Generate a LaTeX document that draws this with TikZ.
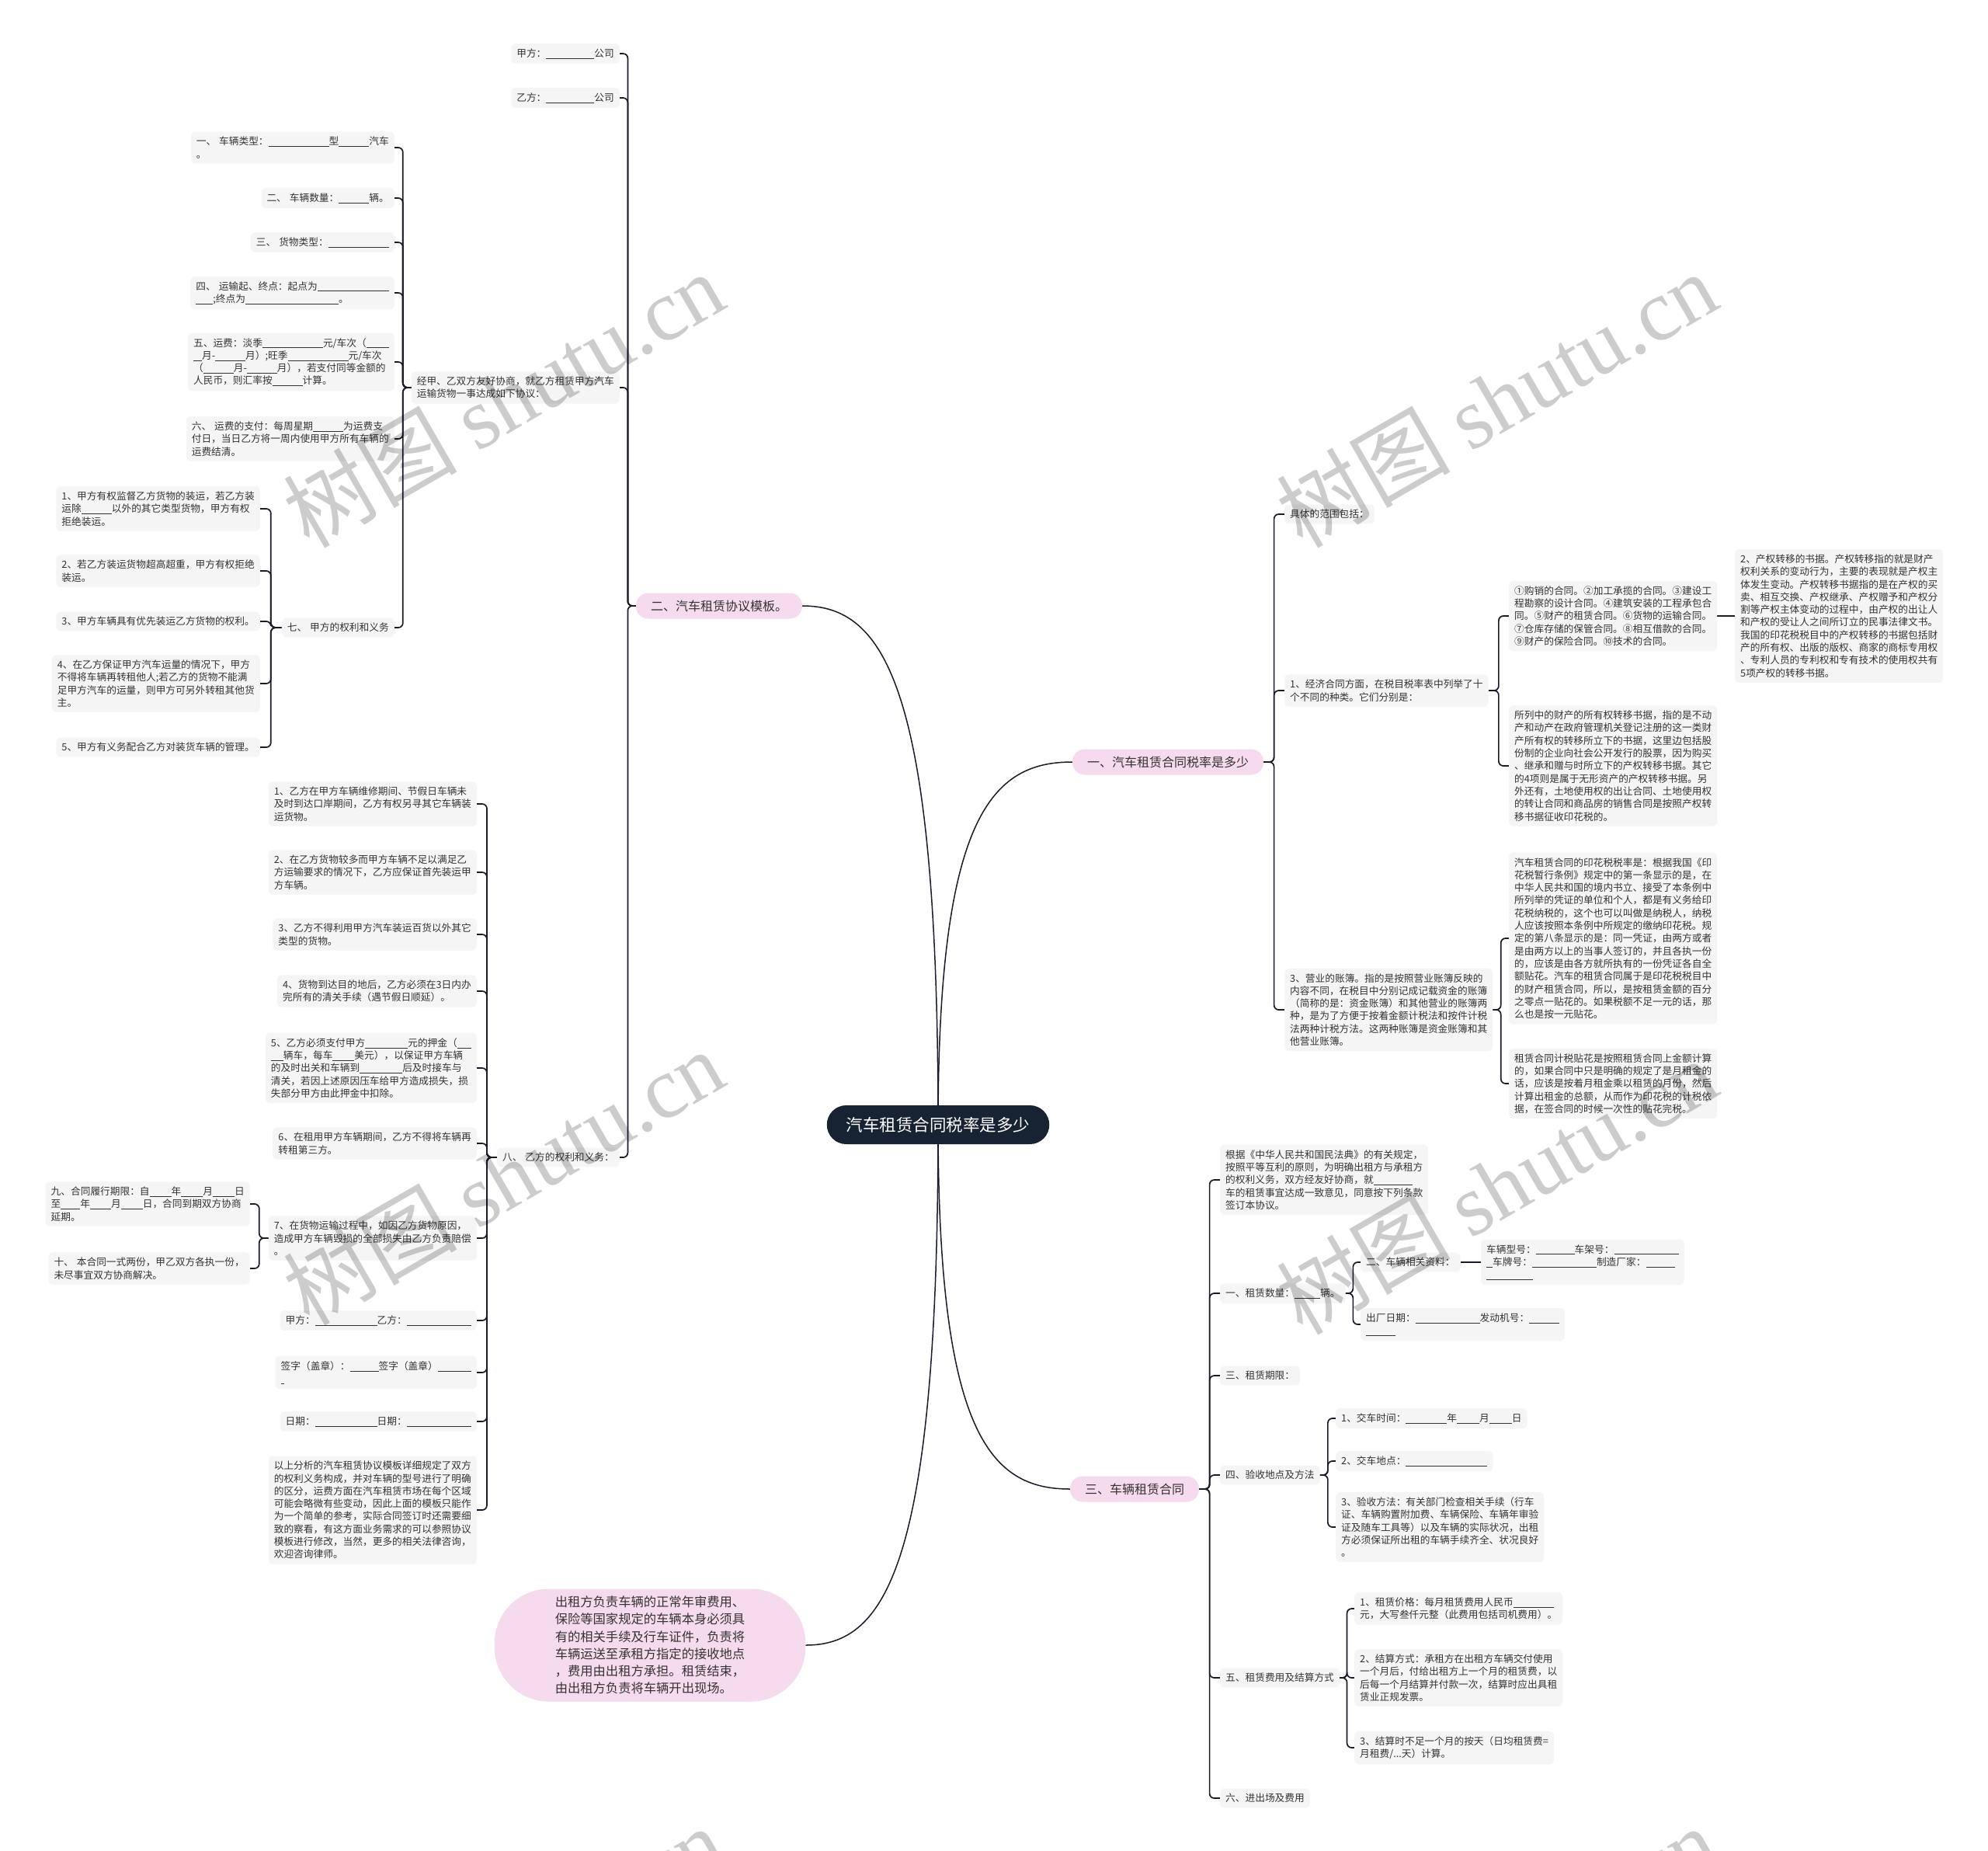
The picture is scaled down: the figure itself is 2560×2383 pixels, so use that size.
\documentclass[tikz,border=0pt]{standalone}
\usepackage{fontspec}
\setmainfont{Noto Sans CJK SC}
\newfontfamily\wmlatin{Liberation Serif}
\usetikzlibrary{calc}
\pgfdeclarelayer{background}
\pgfsetlayers{background,main}
\definecolor{rootbg}{RGB}{23,34,50}
\definecolor{pinkbg}{RGB}{246,218,238}
\definecolor{leafbg}{RGB}{245,245,245}
\definecolor{linkcol}{RGB}{24,28,40}
\definecolor{inkcol}{RGB}{51,51,51}
\newcommand{\fillbar}[1]{\rule[-1.8pt]{#1pt}{0.6pt}}
\tikzstyle{topic}=[fill=rootbg,text=white,rounded corners=25pt,minimum height=50pt,inner xsep=25pt,font=\fontsize{21.5}{26}\selectfont]
\tikzstyle{branch}=[fill=pinkbg,text=inkcol,rounded corners=16pt,minimum height=33pt,inner xsep=19pt,font=\fontsize{16}{20}\selectfont]
\tikzstyle{bubble}=[fill=pinkbg,text=inkcol,rounded corners=70pt,minimum height=145pt,inner xsep=78pt,align=left,font=\fontsize{16.3}{22.2}\selectfont]
\tikzstyle{leaf}=[fill=leafbg,text=inkcol,rounded corners=5pt,inner xsep=7pt,inner ysep=6.5pt,align=left,font=\fontsize{12.7}{16.3}\selectfont]
\tikzstyle{link}=[draw=linkcol,line width=1.7pt,rounded corners=6pt]
\tikzstyle{stem}=[draw=linkcol,line width=1.5pt]
\tikzstyle{wm}=[text=black,text opacity=.2,rotate=30,font=\fontsize{112}{112}\selectfont]
% parent -> child, elbow through a spine halfway between them
\newcommand{\linkR}[2]{\draw[link] let \p1=(#1.east), \p2=(#2.west) in (\p1) -- ({(\x1+\x2)/2},\y1) |- (\p2);}
\newcommand{\linkL}[2]{\draw[link] let \p1=(#1.west), \p2=(#2.east) in (\p1) -- ({(\x1+\x2)/2},\y1) |- (\p2);}
\newcommand{\stemto}[3]{\draw[stem] (#1.center) .. controls ($(#1.center)!.85!(#1.center |- #2.#3)$) and ($(#2.#3)!.6!(#1.center |- #2.#3)$) .. (#2.#3);}

\begin{document}
\begin{tikzpicture}[x=1pt,y=-1pt]
    \useasboundingbox (0,0) rectangle (2560,2383);

    \node[topic] (root) at (1208,1448) {汽车租赁合同税率是多少};

    % right, upper
    \node[branch] (b1) at (1504,981) {一、汽车租赁合同税率是多少};
    \node[leaf,anchor=west] (k1) at (1654,662) {具体的范围包括：};
    \node[leaf,anchor=west] (k2) at (1654,889) {1、经济合同方面，在税目税率表中列举了十\\个不同的种类。它们分别是：};
    \node[leaf,anchor=west] (k21) at (1943,793) {①购销的合同。②加工承揽的合同。③建设工\\程勘察的设计合同。④建筑安装的工程承包合\\同。⑤财产的租赁合同。⑥货物的运输合同。\\⑦仓库存储的保管合同。⑧相互借款的合同。\\⑨财产的保险合同。⑩技术的合同。};
    \node[leaf,anchor=west] (k211) at (2234,793) {2、产权转移的书据。产权转移指的就是财产\\权利关系的变动行为，主要的表现就是产权主\\体发生变动。产权转移书据指的是在产权的买\\卖、相互交换、产权继承、产权赠予和产权分\\割等产权主体变动的过程中，由产权的出让人\\和产权的受让人之间所订立的民事法律文书。\\我国的印花税税目中的产权转移的书据包括财\\产的所有权、出版的版权、商家的商标专用权\\、专利人员的专利权和专有技术的使用权共有\\5项产权的转移书据。};
    \node[leaf,anchor=west] (k22) at (1943,986) {所列中的财产的所有权转移书据，指的是不动\\产和动产在政府管理机关登记注册的这一类财\\产所有权的转移所立下的书据，这里边包括股\\份制的企业向社会公开发行的股票，因为购买\\、继承和赠与时所立下的产权转移书据。其它\\的4项则是属于无形资产的产权转移书据。另\\外还有，土地使用权的出让合同、土地使用权\\的转让合同和商品房的销售合同是按照产权转\\移书据征收印花税的。};
    \node[leaf,anchor=west] (k3) at (1654,1300) {3、营业的账簿。指的是按照营业账簿反映的\\内容不同，在税目中分别记成记载资金的账簿\\（简称的是：资金账簿）和其他营业的账簿两\\种，是为了方便于按着金额计税法和按件计税\\法两种计税方法。这两种账簿是资金账簿和其\\他营业账簿。};
    \node[leaf,anchor=west] (k31) at (1943,1208) {汽车租赁合同的印花税税率是：根据我国《印\\花税暂行条例》规定中的第一条显示的是，在\\中华人民共和国的境内书立、接受了本条例中\\所列举的凭证的单位和个人，都是有义务给印\\花税纳税的，这个也可以叫做是纳税人，纳税\\人应该按照本条例中所规定的缴纳印花税。规\\定的第八条显示的是：同一凭证，由两方或者\\是由两方以上的当事人签订的，并且各执一份\\的，应该是由各方就所执有的一份凭证各自全\\额贴花。汽车的租赁合同属于是印花税税目中\\的财产租赁合同，所以，是按租赁金额的百分\\之零点一贴花的。如果税额不足一元的话，那\\么也是按一元贴花。};
    \node[leaf,anchor=west] (k32) at (1943,1395) {租赁合同计税贴花是按照租赁合同上金额计算\\的，如果合同中只是明确的规定了是月租金的\\话，应该是按着月租金乘以租赁的月份，然后\\计算出租金的总额，从而作为印花税的计税依\\据，在签合同的时候一次性的贴花完税。};

    % right, lower
    \node[branch] (b3) at (1461,1917) {三、车辆租赁合同};
    \node[leaf,anchor=west] (m1) at (1571,1519) {根据《中华人民共和国民法典》的有关规定，\\按照平等互利的原则，为明确出租方与承租方\\的权利义务，双方经友好协商，就\fillbar{50}\\车的租赁事宜达成一致意见，同意按下列条款\\签订本协议。};
    \node[leaf,anchor=west] (m2) at (1571,1665) {一、租赁数量：\fillbar{33}辆。};
    \node[leaf,anchor=west] (m21) at (1752,1625) {二、车辆相关资料：};
    \node[leaf,anchor=west] (m211) at (1907,1625) {车辆型号：\fillbar{50}车架号：\fillbar{83}\\\fillbar{8}车牌号：\fillbar{83}制造厂家：\fillbar{37}\\\fillbar{60}};
    \node[leaf,anchor=west] (m22) at (1752,1705) {出厂日期：\fillbar{83}发动机号：\fillbar{39}\\\fillbar{38}};
    \node[leaf,anchor=west] (m3) at (1571,1771) {三、租赁期限：};
    \node[leaf,anchor=west] (m4) at (1571,1899) {四、验收地点及方法};
    \node[leaf,anchor=west] (m41) at (1720,1826) {1、交车时间：\fillbar{53}年\fillbar{29}月\fillbar{29}日};
    \node[leaf,anchor=west] (m42) at (1720,1881) {2、交车地点：\fillbar{105}};
    \node[leaf,anchor=west] (m43) at (1720,1966) {3、验收方法：有关部门检查相关手续（行车\\证、车辆购置附加费、车辆保险、车辆年审验\\证及随车工具等）以及车辆的实际状况，出租\\方必须保证所出租的车辆手续齐全、状况良好\\。};
    \node[leaf,anchor=west] (m5) at (1571,2160) {五、租赁费用及结算方式};
    \node[leaf,anchor=west] (m51) at (1744,2071) {1、租赁价格：每月租赁费用人民币\fillbar{52}\\元，大写叁仟元整（此费用包括司机费用）。};
    \node[leaf,anchor=west] (m52) at (1744,2160) {2、结算方式：承租方在出租方车辆交付使用\\一个月后，付给出租方上一个月的租赁费，以\\后每一个月结算并付款一次，结算时应出具租\\赁业正规发票。};
    \node[leaf,anchor=west] (m53) at (1744,2250) {3、结算时不足一个月的按天（日均租赁费=\\月租费/...天）计算。};
    \node[leaf,anchor=west] (m6) at (1571,2315) {六、进出场及费用};

    % left, upper
    \node[branch] (b2) at (926,780) {二、汽车租赁协议模板。};
    \node[leaf,anchor=east] (n1) at (798,69) {甲方：\fillbar{62}公司};
    \node[leaf,anchor=east] (n2) at (798,126) {乙方：\fillbar{62}公司};
    \node[leaf,anchor=east] (n3) at (798,499) {经甲、乙双方友好协商，就乙方租赁甲方汽车\\运输货物一事达成如下协议：};
    \node[leaf,anchor=east] (n31) at (508,190) {一、\hspace{4pt}车辆类型：\fillbar{78}型\fillbar{39}汽车\\。};
    \node[leaf,anchor=east] (n32) at (508,255) {二、\hspace{4pt}车辆数量：\fillbar{39}辆。};
    \node[leaf,anchor=east] (n33) at (508,312) {三、\hspace{4pt}货物类型：\fillbar{78}};
    \node[leaf,anchor=east] (n34) at (508,377) {四、\hspace{4pt}运输起、终点：起点为\fillbar{92}\\\fillbar{22};终点为\fillbar{120}。};
    \node[leaf,anchor=east] (n35) at (508,466) {五、运费：淡季\fillbar{78}元/车次（\fillbar{29}\\\fillbar{11}月-\fillbar{39}月）;旺季\fillbar{78}元/车次\\（\fillbar{39}月-\fillbar{39}月），若支付同等金额的\\人民币，则汇率按\fillbar{39}计算。};
    \node[leaf,anchor=east] (n36) at (508,565) {六、\hspace{4pt}运费的支付：每周星期\fillbar{39}为运费支\\付日，当日乙方将一周内使用甲方所有车辆的\\运费结清。};
    \node[leaf,anchor=east] (n37) at (508,808) {七、\hspace{4pt}甲方的权利和义务};
    \node[leaf,anchor=east] (n371) at (335,655) {1、甲方有权监督乙方货物的装运，若乙方装\\运除\fillbar{39}以外的其它类型货物，甲方有权\\拒绝装运。};
    \node[leaf,anchor=east] (n372) at (335,735) {2、若乙方装运货物超高超重，甲方有权拒绝\\装运。};
    \node[leaf,anchor=east] (n373) at (335,800) {3、甲方车辆具有优先装运乙方货物的权利。};
    \node[leaf,anchor=east] (n374) at (335,880) {4、在乙方保证甲方汽车运量的情况下，甲方\\不得将车辆再转租他人;若乙方的货物不能满\\足甲方汽车的运量，则甲方可另外转租其他货\\主。};
    \node[leaf,anchor=east] (n375) at (335,962) {5、甲方有义务配合乙方对装货车辆的管理。};
    \node[leaf,anchor=east] (n4) at (798,1490) {八、\hspace{4pt}乙方的权利和义务：};
    \node[leaf,anchor=east] (n41) at (614,1035) {1、乙方在甲方车辆维修期间、节假日车辆未\\及时到达口岸期间，乙方有权另寻其它车辆装\\运货物。};
    \node[leaf,anchor=east] (n42) at (614,1123) {2、在乙方货物较多而甲方车辆不足以满足乙\\方运输要求的情况下，乙方应保证首先装运甲\\方车辆。};
    \node[leaf,anchor=east] (n43) at (614,1203) {3、乙方不得利用甲方汽车装运百货以外其它\\类型的货物。};
    \node[leaf,anchor=east] (n44) at (614,1276) {4、货物到达目的地后，乙方必须在3日内办\\完所有的清关手续（遇节假日顺延）。};
    \node[leaf,anchor=east] (n45) at (614,1375) {5、乙方必须支付甲方\fillbar{55}元的押金（\fillbar{18}\\\fillbar{16}辆车，每车\fillbar{28}美元），以保证甲方车辆\\的及时出关和车辆到\fillbar{55}后及时接车与\\清关，若因上述原因压车给甲方造成损失，损\\失部分甲方由此押金中扣除。};
    \node[leaf,anchor=east] (n46) at (614,1472) {6、在租用甲方车辆期间，乙方不得将车辆再\\转租第三方。};
    \node[leaf,anchor=east] (n47) at (614,1594) {7、在货物运输过程中，如因乙方货物原因，\\造成甲方车辆毁损的全部损失由乙方负责赔偿\\。};
    \node[leaf,anchor=east] (n471) at (322,1550) {九、合同履行期限：自\fillbar{28}年\fillbar{28}月\fillbar{28}日\\至\fillbar{25}年\fillbar{27}月\fillbar{28}日，合同到期双方协商\\延期。};
    \node[leaf,anchor=east] (n472) at (322,1633) {十、\hspace{4pt}本合同一式两份，甲乙双方各执一份，\\未尽事宜双方协商解决。};
    \node[leaf,anchor=east] (n48) at (614,1700) {甲方：\fillbar{80}乙方：\fillbar{83}};
    \node[leaf,anchor=east] (n49) at (614,1767) {签字（盖章）：\fillbar{37}签字（盖章）\fillbar{43}\\\fillbar{4}};
    \node[leaf,anchor=east] (n410) at (614,1830) {日期：\fillbar{80}日期：\fillbar{83}};
    \node[leaf,anchor=east] (n411) at (614,1944) {以上分析的汽车租赁协议模板详细规定了双方\\的权利义务构成，并对车辆的型号进行了明确\\的区分，运费方面在汽车租赁市场在每个区域\\可能会略微有些变动，因此上面的模板只能作\\为一个简单的参考，实际合同签订时还需要细\\致的察看，有这方面业务需求的可以参照协议\\模板进行修改，当然，更多的相关法律咨询，\\欢迎咨询律师。};

    % left, lower
    \node[bubble] (b4) at (837,2118) {出租方负责车辆的正常年审费用、\\保险等国家规定的车辆本身必须具\\有的相关手续及行车证件，负责将\\车辆运送至承租方指定的接收地点\\，费用由出租方承担。租赁结束，\\由出租方负责将车辆开出现场。};

    \begin{pgfonlayer}{background}
      \fill[white] (0,0) rectangle (2560,2383);
      \stemto{root}{b1}{west}
      \stemto{root}{b2}{east}
      \stemto{root}{b3}{west}
      \stemto{root}{b4}{east}
      \foreach \c in {k1,k2,k3} {\linkR{b1}{\c}}
      \foreach \c in {k21,k22} {\linkR{k2}{\c}}
      \draw[link] (k21.east) -- (k211.west);
      \foreach \c in {k31,k32} {\linkR{k3}{\c}}
      \foreach \c in {m1,m2,m3,m4,m5,m6} {\linkR{b3}{\c}}
      \foreach \c in {m21,m22} {\linkR{m2}{\c}}
      \draw[link] (m21.east) -- (m211.west);
      \foreach \c in {m41,m42,m43} {\linkR{m4}{\c}}
      \foreach \c in {m51,m52,m53} {\linkR{m5}{\c}}
      \foreach \c in {n1,n2,n3,n4} {\linkL{b2}{\c}}
      \foreach \c in {n31,n32,n33,n34,n35,n36,n37} {\linkL{n3}{\c}}
      \foreach \c in {n371,n372,n373,n374,n375} {\linkL{n37}{\c}}
      \foreach \c in {n41,n42,n43,n44,n45,n46,n47,n48,n49,n410,n411} {\linkL{n4}{\c}}
      \foreach \c in {n471,n472} {\linkL{n47}{\c}}
    \end{pgfonlayer}

    % watermark
    \begin{scope}
      \clip (0,0) rectangle (2560,2383);
      \foreach \wx/\wy in {648/514,1927/514,648/1515,1927/1527,648/2515,1927/2515}
        \node[wm] (wm) at (\wx,\wy) {树图 {\wmlatin shutu.cn}};
    \end{scope}
\end{tikzpicture}
\end{document}
